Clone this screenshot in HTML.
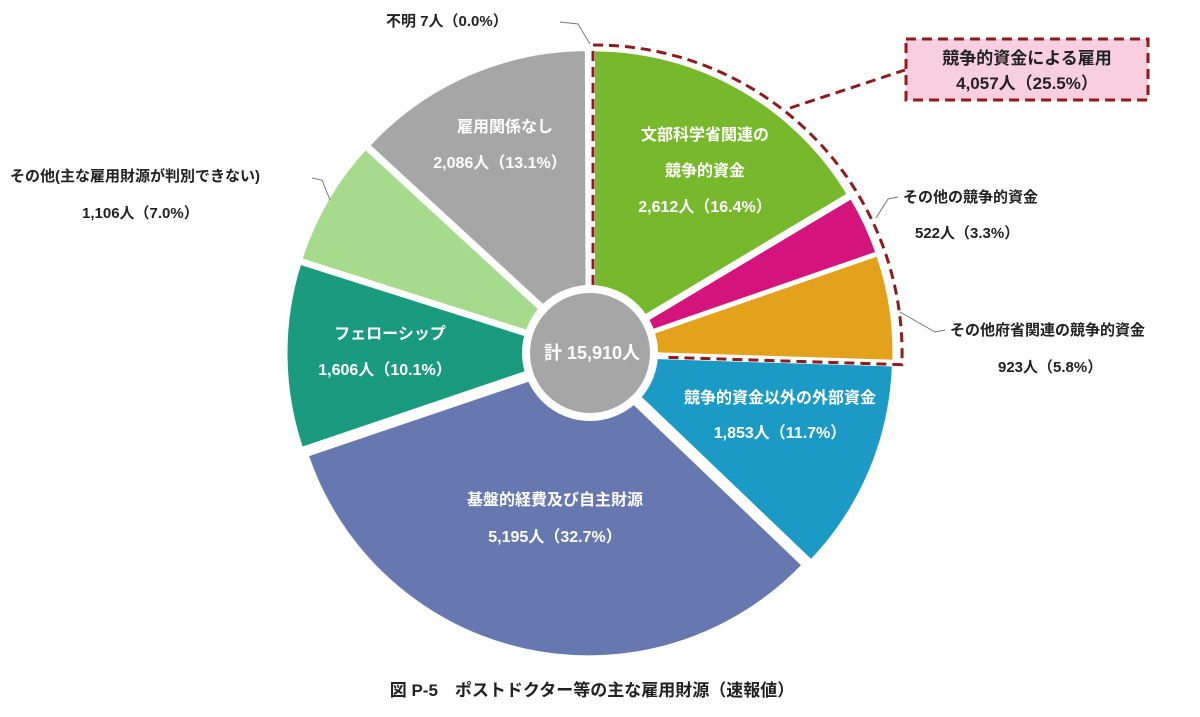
<!DOCTYPE html>
<html><head><meta charset="utf-8">
<style>
body{margin:0;background:#fff;}
svg text{font-family:"Liberation Sans","Noto Sans CJK JP",sans-serif;font-weight:bold;}
</style></head>
<body>
<svg id="chart" width="1200" height="712" viewBox="0 0 1200 712" xmlns="http://www.w3.org/2000/svg">
<g id="slices"></g>
<g id="overlay"></g>
</svg>
<script>
const categories=["文部科学省関連の競争的資金","その他の競争的資金","その他府省関連の競争的資金","競争的資金以外の外部資金","基盤的経費及び自主財源","フェローシップ","その他(主な雇用財源が判別できない)","雇用関係なし","不明"];
const values=[2612,522,923,1853,5195,1606,1106,2086,7];
const percents=["16.4%","3.3%","5.8%","11.7%","32.7%","10.1%","7.0%","13.1%","0.0%"];
const colors=["#77b82c","#d4147c","#e4a11c","#1b9ac6","#6777b0","#1a9b80","#a6db8e","#a6a6a6","#a6a6a6"];
const NS="http://www.w3.org/2000/svg";
const cx=590,cy=353,R=297,OFF=7;
const total=values.reduce((a,b)=>a+b,0);
function pt(a,r,ox,oy){const t=a*Math.PI/180;return [cx+(ox||0)+r*Math.sin(t),cy+(oy||0)-r*Math.cos(t)];}
function mk(tag,attrs,parent){const e=document.createElementNS(NS,tag);for(const k in attrs)e.setAttribute(k,attrs[k]);parent.appendChild(e);return e;}
const gs=document.getElementById('slices'),go=document.getElementById('overlay');
let acc=0;
values.forEach((v,i)=>{
  const a0=acc/total*360;acc+=v;const a1=acc/total*360;
  const mid=(a0+a1)/2*Math.PI/180;
  const ox=OFF*Math.sin(mid),oy=-OFF*Math.cos(mid);
  const p0=pt(a0,R,ox,oy),p1=pt(a1,R,ox,oy);
  const large=(a1-a0)>180?1:0;
  const p=mk('path',{d:`M${cx+ox},${cy+oy} L${p0[0]},${p0[1]} A${R},${R} 0 ${large} 1 ${p1[0]},${p1[1]} Z`,fill:colors[i],stroke:'#fff','stroke-width':3},gs);
  
  
});
// dashed outline around competitive funds (first 3 slices)
const compEnd=(values[0]+values[1]+values[2])/total*360;
const Rd=R+OFF+4;
const d0=pt(0,Rd,3,0),d1=pt(compEnd,Rd,4,2);
const e1=pt(compEnd,72,4,2);
const dash=mk('path',{d:`M${cx+3},${cy-68} L${d0[0]},${d0[1]} A${Rd},${Rd} 0 0 1 ${d1[0]},${d1[1]} L${e1[0]},${e1[1]}`,fill:'none',stroke:'#8e1c1c','stroke-width':3,'stroke-dasharray':'10 6'},go);


// center hole
const hole=mk('circle',{cx:cx,cy:cy,r:64,fill:'#a6a6a6',stroke:'#fff','stroke-width':8},go);


</script>
<svg width="1200" height="712" style="position:absolute;left:0;top:0">
<g font-family="Liberation Sans, Noto Sans CJK JP, sans-serif" font-weight="bold">
<line x1="790" y1="108" x2="905" y2="70" stroke="#8e1c1c" stroke-width="3" stroke-dasharray="10 6"/>
<rect x="906" y="39" width="242" height="61" fill="#f8cfe0" stroke="#8e1c1c" stroke-width="3" stroke-dasharray="10 6"/>
<text x="1027" y="64" font-size="17" text-anchor="middle" fill="#222">競争的資金による雇用</text>
<text x="1027" y="89" font-size="17" text-anchor="middle" fill="#222">4,057人（25.5%）</text>

<g fill="#fff" font-size="16" text-anchor="middle">
<text x="705" y="140">文部科学省関連の</text>
<text x="705" y="176">競争的資金</text>
<text x="705" y="212">2,612人（16.4%）</text>
<text x="505" y="132">雇用関係なし</text>
<text x="500" y="168">2,086人（13.1%）</text>
<text x="390" y="339">フェローシップ</text>
<text x="385" y="375">1,606人（10.1%）</text>
<text x="780" y="403">競争的資金以外の外部資金</text>
<text x="780" y="438">1,853人（11.7%）</text>
<text x="555" y="505">基盤的経費及び自主財源</text>
<text x="555" y="542">5,195人（32.7%）</text>
<text x="592" y="359" font-size="18">計 15,910人</text>
</g>

<g fill="#222" font-size="15">
<text x="386" y="26">不明 7人（0.0%）</text>
<polyline points="560,22 578,24 590,44" fill="none" stroke="#777" stroke-width="1"/>
<text x="10" y="181">その他(主な雇用財源が判別できない)</text>
<text x="82" y="218">1,106人（7.0%）</text>
<polyline points="312,178 322,180 330,200" fill="none" stroke="#777" stroke-width="1"/>
<text x="903" y="202">その他の競争的資金</text>
<text x="915" y="238">522人（3.3%）</text>
<polyline points="898,197 888,199 876,218" fill="none" stroke="#777" stroke-width="1"/>
<text x="950" y="335">その他府省関連の競争的資金</text>
<text x="998" y="372">923人（5.8%）</text>
<polyline points="945,330 935,332 900,312" fill="none" stroke="#777" stroke-width="1"/>
</g>
<text x="592" y="696" font-size="17" text-anchor="middle" fill="#222">図 P-5　ポストドクター等の主な雇用財源（速報値）</text>
</g>
</svg>
</body></html>
